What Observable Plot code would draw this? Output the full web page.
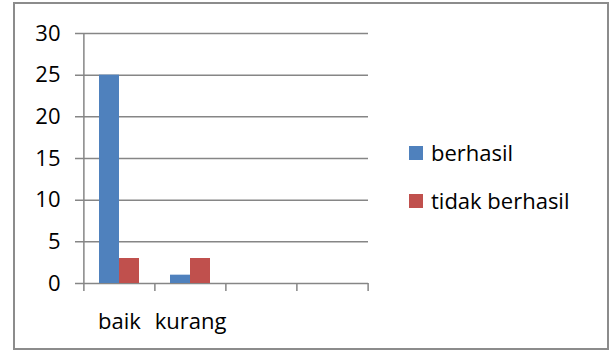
<!DOCTYPE html>
<html>
<head>
<meta charset="utf-8">
<script src="https://cdn.jsdelivr.net/npm/d3@7"></script>
<script src="https://cdn.jsdelivr.net/npm/@observablehq/plot@0.6"></script>
<style>
  html, body { margin: 0; padding: 0; background: #fff; }
  #wrap { position: relative; width: 611px; height: 351px; font-family: "Open Sans", sans-serif; }
  #border { position: absolute; left: 13px; top: 2px; width: 596px; height: 348px; box-sizing: border-box; border: 2px solid #8c8c8c; pointer-events: none; }
  #chart { position: absolute; left: 0; top: 0; }
  .legend { position: absolute; left: 409px; font-size: 22px; color: #000; }
  .legend .item { position: absolute; left: 0; white-space: nowrap; height: 24px; line-height: 24px; }
  .legend .sw { display: inline-block; width: 14px; height: 14px; vertical-align: middle; margin-right: 8px; position: relative; top: -2px; }
</style>
</head>
<body>
<div id="wrap">
  <div id="chart"></div>
  <div id="border"></div>
  <div class="legend" id="legend"></div>
</div>
<script>
const categories = ["baik", "kurang", " ", "  "];
const seriesNames = ["berhasil", "tidak berhasil"];
const berhasil = [25, 1];
const tidakBerhasil = [3, 3];
const yTicks = [0, 5, 10, 15, 20, 25, 30];
const colors = ["#4F81BD", "#C0504D"];

const rows = categories.slice(0, berhasil.length).map((c, i) => ({cat: c, berhasil: berhasil[i], tidak: tidakBerhasil[i]}));

const W = 611, H = 351, mL = 83, mR = 243, mT = 33, mB = 68;
const step = (W - mL - mR) / categories.length;
const grid = "#868686";

const plot = Plot.plot({
  width: W, height: H,
  marginLeft: mL, marginRight: mR, marginTop: mT, marginBottom: mB,
  style: {fontFamily: "Open Sans, sans-serif", fontSize: "22px", color: "#000", background: "transparent"},
  x: {type: "band", domain: categories, paddingInner: 0.72, paddingOuter: 0.36, axis: null, label: null},
  y: {domain: [0, 30], axis: null, label: null},
  marks: [
    Plot.ruleY(yTicks, {stroke: grid, strokeWidth: 1.5, insetLeft: -8}),
    Plot.ruleX([categories[0]], {dx: -step / 2, y1: 0, y2: 30, stroke: grid, strokeWidth: 1.5}),
    Plot.axisY({ticks: yTicks, tickSize: 0, tickPadding: 23, fontSize: 22, fill: "#000", stroke: "none", label: null}),
    Plot.axisX(categories, {tickSize: 8, tickFormat: () => "", dx: -step / 2, stroke: grid, strokeWidth: 1.5, label: null}),
    Plot.axisX([categories[categories.length - 1]], {tickSize: 8, tickFormat: () => "", dx: step / 2, stroke: grid, strokeWidth: 1.5, label: null}),
    Plot.axisX(categories, {tickSize: 0, tickPadding: 30, fontSize: 22, fill: "#000", stroke: "none", label: null}),
    Plot.barY(rows, {x: "cat", y: "berhasil", fill: colors[0], dx: -10}),
    Plot.barY(rows, {x: "cat", y: "tidak", fill: colors[1], dx: 10})
  ]
});
document.getElementById("chart").appendChild(plot);

const legend = document.getElementById("legend");
const legendTops = [140, 188];
seriesNames.forEach((name, i) => {
  const item = document.createElement("div");
  item.className = "item";
  item.style.top = legendTops[i] + "px";
  const sw = document.createElement("span");
  sw.className = "sw";
  sw.style.background = colors[i];
  item.appendChild(sw);
  item.appendChild(document.createTextNode(name));
  legend.appendChild(item);
});
</script>
</body>
</html>
